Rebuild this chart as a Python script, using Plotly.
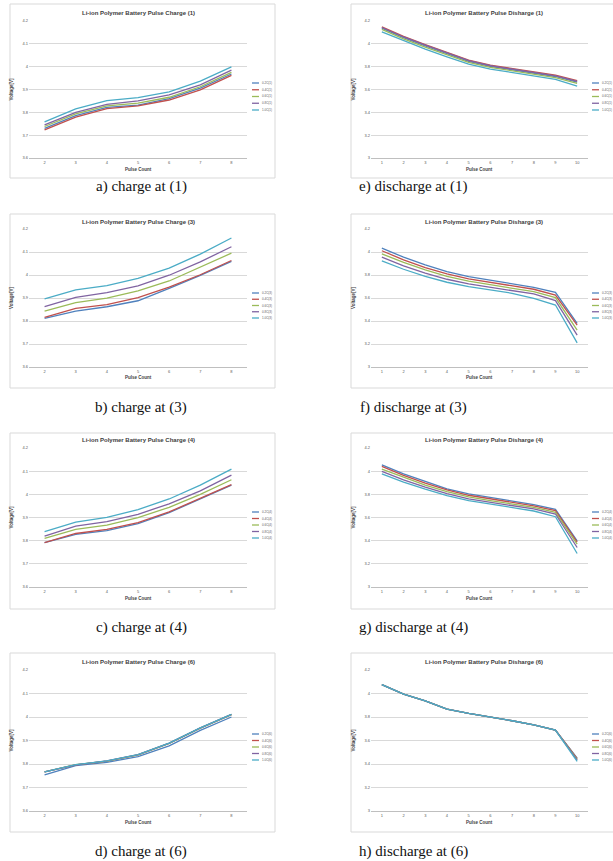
import plotly.graph_objects as go

W, H = 613, 861

# ---------------- data ----------------
pulse_charge = [2, 3, 4, 5, 6, 7, 8]
pulse_discharge = [1, 2, 3, 4, 5, 6, 7, 8, 9, 10]
rates = ["0.2C", "0.4C", "0.6C", "0.8C", "1.0C"]
colors = ["#4F81BD", "#C0504D", "#9BBB59", "#8064A2", "#4BACC6"]

charge_ticks = [3.6, 3.7, 3.8, 3.9, 4.0, 4.1, 4.2]
discharge_ticks = [3.0, 3.2, 3.4, 3.6, 3.8, 4.0, 4.2]

# charge at (1)
ch1_02 = [3.730, 3.786, 3.822, 3.832, 3.860, 3.906, 3.968]
ch1_04 = [3.723, 3.779, 3.816, 3.828, 3.854, 3.898, 3.962]
ch1_06 = [3.738, 3.793, 3.828, 3.840, 3.866, 3.912, 3.975]
ch1_08 = [3.745, 3.800, 3.835, 3.850, 3.876, 3.920, 3.985]
ch1_10 = [3.758, 3.815, 3.851, 3.864, 3.890, 3.937, 3.999]

# charge at (3)
ch3_02 = [3.811, 3.843, 3.862, 3.888, 3.942, 3.998, 4.059]
ch3_04 = [3.816, 3.855, 3.871, 3.902, 3.947, 4.001, 4.063]
ch3_06 = [3.843, 3.880, 3.899, 3.931, 3.974, 4.033, 4.095]
ch3_08 = [3.862, 3.903, 3.923, 3.953, 3.999, 4.057, 4.123]
ch3_10 = [3.896, 3.935, 3.954, 3.985, 4.030, 4.091, 4.161]

# charge at (4)
ch4_02 = [3.792, 3.827, 3.843, 3.874, 3.921, 3.980, 4.040]
ch4_04 = [3.792, 3.831, 3.849, 3.878, 3.924, 3.983, 4.042]
ch4_06 = [3.810, 3.849, 3.867, 3.899, 3.944, 4.000, 4.063]
ch4_08 = [3.820, 3.863, 3.882, 3.914, 3.959, 4.015, 4.083]
ch4_10 = [3.839, 3.880, 3.901, 3.934, 3.980, 4.040, 4.109]

# charge at (6)
ch6_02 = [3.754, 3.793, 3.807, 3.831, 3.877, 3.943, 4.000]
ch6_04 = [3.766, 3.796, 3.812, 3.839, 3.888, 3.953, 4.010]
ch6_06 = [3.766, 3.797, 3.812, 3.839, 3.888, 3.953, 4.010]
ch6_08 = [3.767, 3.796, 3.813, 3.840, 3.889, 3.954, 4.011]
ch6_10 = [3.767, 3.797, 3.813, 3.840, 3.889, 3.954, 4.011]

# discharge at (1)
dis1_02 = [4.138, 4.054, 3.981, 3.913, 3.847, 3.803, 3.773, 3.749, 3.714, 3.665]
dis1_04 = [4.148, 4.066, 3.994, 3.924, 3.857, 3.813, 3.784, 3.761, 3.726, 3.677]
dis1_06 = [4.126, 4.044, 3.972, 3.903, 3.838, 3.794, 3.764, 3.739, 3.704, 3.654]
dis1_08 = [4.143, 4.060, 3.988, 3.918, 3.852, 3.808, 3.779, 3.755, 3.720, 3.671]
dis1_10 = [4.104, 4.026, 3.953, 3.886, 3.822, 3.779, 3.749, 3.723, 3.688, 3.630]

# discharge at (3)
dis3_02 = [4.034, 3.955, 3.888, 3.830, 3.786, 3.757, 3.728, 3.693, 3.649, 3.379]
dis3_04 = [4.011, 3.932, 3.865, 3.810, 3.766, 3.737, 3.711, 3.676, 3.626, 3.364]
dis3_06 = [3.984, 3.909, 3.845, 3.789, 3.746, 3.716, 3.690, 3.655, 3.603, 3.320]
dis3_08 = [3.955, 3.880, 3.816, 3.763, 3.722, 3.693, 3.670, 3.635, 3.577, 3.277]
dis3_10 = [3.923, 3.850, 3.789, 3.737, 3.699, 3.670, 3.641, 3.597, 3.539, 3.210]

# discharge at (4)
dis4_02 = [4.055, 3.977, 3.911, 3.847, 3.804, 3.772, 3.743, 3.711, 3.671, 3.399]
dis4_04 = [4.041, 3.963, 3.896, 3.838, 3.792, 3.760, 3.731, 3.700, 3.659, 3.387]
dis4_06 = [4.018, 3.946, 3.879, 3.824, 3.778, 3.746, 3.720, 3.688, 3.645, 3.370]
dis4_08 = [3.998, 3.925, 3.862, 3.807, 3.760, 3.731, 3.705, 3.674, 3.630, 3.341]
dis4_10 = [3.977, 3.905, 3.844, 3.789, 3.746, 3.717, 3.691, 3.656, 3.607, 3.289]

# discharge at (6)
dis6_02 = [4.075, 3.995, 3.938, 3.867, 3.830, 3.802, 3.768, 3.733, 3.688, 3.450]
dis6_04 = [4.075, 3.995, 3.938, 3.867, 3.830, 3.802, 3.768, 3.733, 3.688, 3.445]
dis6_06 = [4.075, 3.995, 3.938, 3.867, 3.830, 3.802, 3.768, 3.733, 3.688, 3.440]
dis6_08 = [4.075, 3.995, 3.938, 3.867, 3.830, 3.802, 3.768, 3.733, 3.688, 3.432]
dis6_10 = [4.075, 3.995, 3.938, 3.867, 3.830, 3.802, 3.768, 3.733, 3.688, 3.422]

charts = [
    # (col, row, x, series, ticks, title, caption, suffix)
    (0, 0, pulse_charge, [ch1_02, ch1_04, ch1_06, ch1_08, ch1_10], charge_ticks,
     "Li-ion Polymer Battery Pulse Charge (1)", "a) charge at (1)", "(1)"),
    (0, 1, pulse_charge, [ch3_02, ch3_04, ch3_06, ch3_08, ch3_10], charge_ticks,
     "Li-ion Polymer Battery Pulse Charge (3)", "b) charge at (3)", "(3)"),
    (0, 2, pulse_charge, [ch4_02, ch4_04, ch4_06, ch4_08, ch4_10], charge_ticks,
     "Li-ion Polymer Battery Pulse Charge (4)", "c) charge at (4)", "(4)"),
    (0, 3, pulse_charge, [ch6_02, ch6_04, ch6_06, ch6_08, ch6_10], charge_ticks,
     "Li-ion Polymer Battery Pulse Charge (6)", "d) charge at (6)", "(6)"),
    (1, 0, pulse_discharge, [dis1_02, dis1_04, dis1_06, dis1_08, dis1_10], discharge_ticks,
     "Li-ion Polymer Battery Pulse Disharge (1)", "e) discharge at (1)", "(1)"),
    (1, 1, pulse_discharge, [dis3_02, dis3_04, dis3_06, dis3_08, dis3_10], discharge_ticks,
     "Li-ion Polymer Battery Pulse Disharge (3)", "f) discharge at (3)", "(3)"),
    (1, 2, pulse_discharge, [dis4_02, dis4_04, dis4_06, dis4_08, dis4_10], discharge_ticks,
     "Li-ion Polymer Battery Pulse Disharge (4)", "g) discharge at (4)", "(4)"),
    (1, 3, pulse_discharge, [dis6_02, dis6_04, dis6_06, dis6_08, dis6_10], discharge_ticks,
     "Li-ion Polymer Battery Pulse Disharge (6)", "h) discharge at (6)", "(6)"),
]

# ---------------- layout geometry (pixels) ----------------
cols = [
    dict(box=(10, 275), plot=(29, 247), leg=252, cap=141),
    dict(box=(351, 660), plot=(371, 588), leg=592, cap=413),
]
rows = [
    dict(box=(4, 178), title=13, plot=(21, 158), xt=170, cap=186, leg=(83, 110)),
    dict(box=(214, 388), title=222, plot=(229, 367), xt=378, cap=407, leg=(293, 318)),
    dict(box=(433, 609), title=440, plot=(448, 587), xt=598, cap=627, leg=(512, 538)),
    dict(box=(653, 832), title=662, plot=(670, 811), xt=822, cap=851, leg=(734, 760)),
]


def fx(px):
    return px / W


def fy(py):
    return 1 - py / H


AXFONT = "Liberation Sans"
fig = go.Figure()
shapes = []
annotations = []
layout_axes = {}

for k, (c, r, xs, series, ticks, title, caption, suffix) in enumerate(charts):
    col, row = cols[c], rows[r]
    idx = "" if k == 0 else str(k + 1)
    xa, ya = "x" + idx, "y" + idx

    # chart frame
    shapes.append(dict(type="rect", xref="paper", yref="paper",
                       x0=fx(col["box"][0]), x1=fx(col["box"][1]),
                       y0=fy(row["box"][1]), y1=fy(row["box"][0]),
                       line=dict(color="#D9D9D9", width=1),
                       fillcolor="white", layer="below"))

    for name, color, ys in zip(rates, colors, series):
        fig.add_trace(go.Scatter(x=xs, y=ys, mode="lines", name=name + suffix,
                                 line=dict(color=color, width=1.3),
                                 xaxis=xa, yaxis=ya, showlegend=False))

    layout_axes["xaxis" + idx] = dict(
        domain=[fx(col["plot"][0]), fx(col["plot"][1])], anchor=ya,
        range=[xs[0] - 0.5, xs[-1] + 0.5], tickvals=xs,
        tickfont=dict(size=4, color="#595959", family=AXFONT),
        showgrid=False, zeroline=False, showline=True, automargin=False,
        linecolor="#BFBFBF", linewidth=1, ticks="", fixedrange=True)
    layout_axes["yaxis" + idx] = dict(
        domain=[fy(row["plot"][1]), fy(row["plot"][0])], anchor=xa,
        range=[ticks[0], ticks[-1]], tickvals=ticks, automargin=False,
        tickfont=dict(size=4, color="#595959", family=AXFONT),
        showgrid=True, gridcolor="#D9D9D9", gridwidth=1,
        zeroline=False, showline=False, ticks="", fixedrange=True)

    # chart title
    annotations.append(dict(xref="paper", yref="paper",
                            x=fx((col["plot"][0] + col["plot"][1]) / 2 + (4 if c else 0)),
                            y=fy(row["title"]), text="<b>" + title + "</b>",
                            showarrow=False, font=dict(size=6, color="#404040", family=AXFONT),
                            xanchor="center", yanchor="middle"))
    # axis titles
    annotations.append(dict(xref="paper", yref="paper",
                            x=fx(col["plot"][0] - 18),
                            y=fy((row["plot"][0] + row["plot"][1]) / 2),
                            text="<b>Voltage[V]</b>", textangle=-90, showarrow=False,
                            font=dict(size=4.5, color="#404040", family=AXFONT),
                            xanchor="center", yanchor="middle"))
    annotations.append(dict(xref="paper", yref="paper",
                            x=fx((col["plot"][0] + col["plot"][1]) / 2),
                            y=fy(row["xt"]), text="<b>Pulse Count</b>", showarrow=False,
                            font=dict(size=4.5, color="#404040", family=AXFONT),
                            xanchor="center", yanchor="middle"))
    # caption
    annotations.append(dict(xref="paper", yref="paper",
                            x=fx(col["cap"]), y=fy(row["cap"]), text=caption,
                            showarrow=False,
                            font=dict(size=15, color="#111111", family="Liberation Serif"),
                            xanchor="center", yanchor="middle"))
    # manual legend
    ly0, ly1 = row["leg"]
    for i, (name, color) in enumerate(zip(rates, colors)):
        ly = ly0 + (ly1 - ly0) * i / (len(rates) - 1)
        shapes.append(dict(type="line", xref="paper", yref="paper",
                           x0=fx(col["leg"]), x1=fx(col["leg"] + 7),
                           y0=fy(ly), y1=fy(ly), line=dict(color=color, width=1.3)))
        annotations.append(dict(xref="paper", yref="paper",
                                x=fx(col["leg"] + 8), y=fy(ly), text=name + suffix,
                                showarrow=False, xanchor="left", yanchor="middle",
                                font=dict(size=3, color="#595959", family=AXFONT)))

fig.update_layout(
    width=W, height=H, margin=dict(l=0, r=0, t=0, b=0, autoexpand=False),
    paper_bgcolor="white", plot_bgcolor="white",
    showlegend=False, shapes=shapes, annotations=annotations,
    **layout_axes)

fig.write_html("out.html", config={"displayModeBar": False},
               post_script="document.body.style.margin='0px';document.body.style.padding='0px';")
